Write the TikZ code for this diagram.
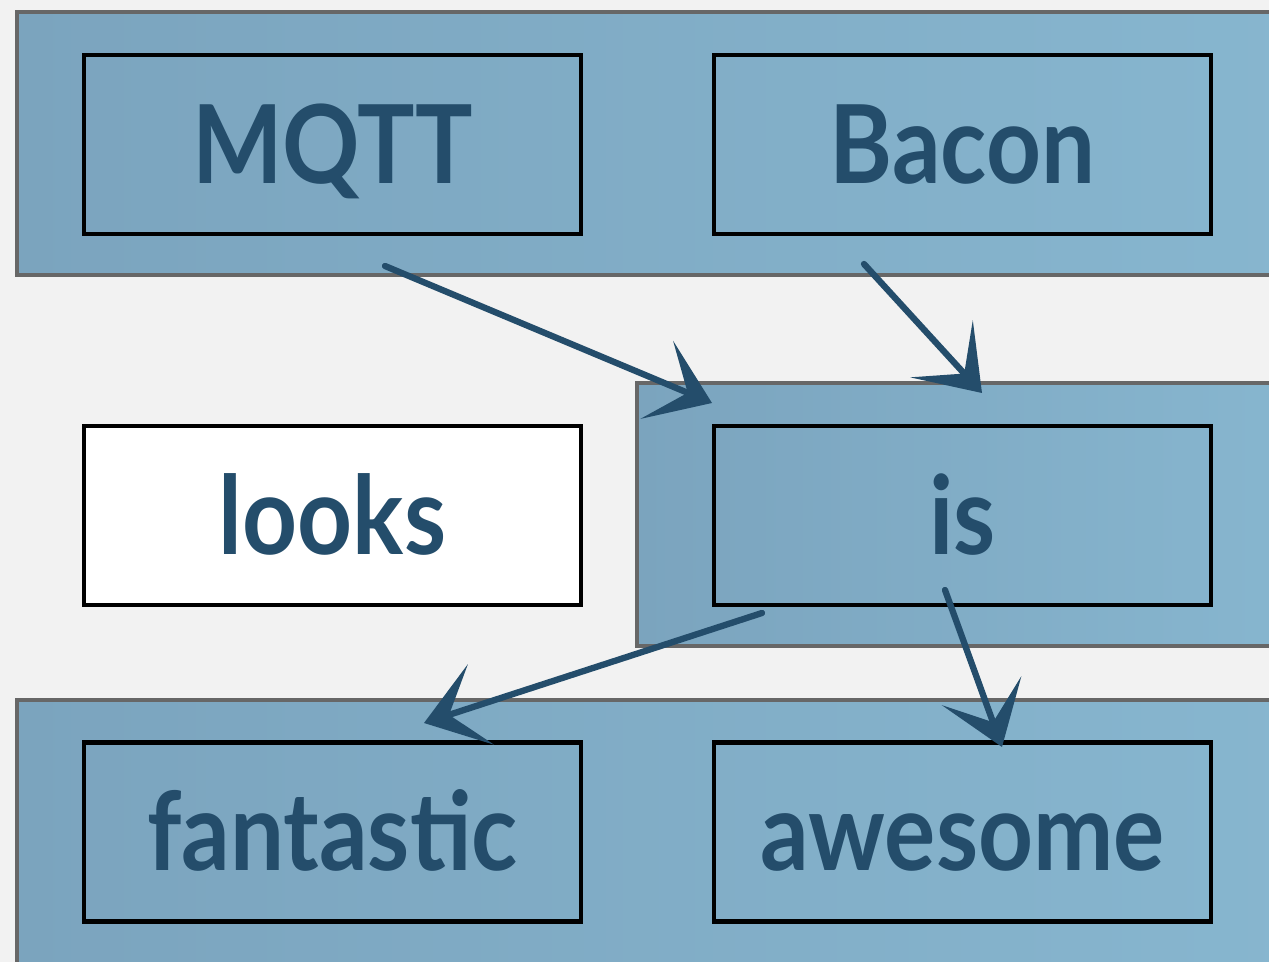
\documentclass[tikz,border=0pt]{standalone}
\usepackage{fontspec}
\setmainfont[FakeStretch=0.88]{Lato}
\usetikzlibrary{positioning,
calc,
arrows.meta}
\definecolor{paper}{HTML}{F2F2F2}
\definecolor{bandleft}{HTML}{7BA4BE}
\definecolor{bandright}{HTML}{87B6CF}
\definecolor{bandgrey}{HTML}{676767}
\definecolor{inkblue}{HTML}{244D6B}
\tikzstyle{Band} = [
draw=bandgrey,
line width=2.8pt,
left color=bandleft,
right color=bandright
]
\tikzstyle{Word} = [
draw=black,
line width=2.3pt,
minimum width=9.94cm,
minimum height=3.58cm,
inner sep=0pt,
text=inkblue,
text height=44pt,
text depth=0pt,
font=\fontsize{62}{70}\selectfont\bfseries
]
\tikzstyle{Arrow} = [
draw=inkblue,
line width=3.6pt,
line cap=round,
-{Stealth[length=34pt, width=48pt, inset=19pt]}
]

\begin{document}
\begin{tikzpicture}[x=0.02cm, y=-0.02cm]
   \clip (0,0) rectangle (1269,962);
   \fill [paper] (0,0) rectangle (1269,962);
   % bands
   \draw [Band] (17,12) rectangle (1300,275);
   \draw [Band] (637,383) rectangle (1300,646);
   \draw [Band] (17,700) rectangle (1300,1000);

   \node [Word] (mqtt) at (332.5,144.5) {MQTT};
   \node [Word] (bacon) at (962.5,144.5) {Bacon};
   \node [Word, fill=white] (looks) at (332.5,515.5) {looks};
   \node [Word] (is) at (962.5,515.5) {is};
   \node [Word] (fantastic) at (332.5,832) {fantastic};
   \node [Word] (awesome) at (962.5,832) {awesome};

   \coordinate (mqtt tail) at (385,266);
   \coordinate (bacon tail) at (864,264);
   \coordinate (is left) at (712,403);
   \coordinate (is right) at (982,393);
   \coordinate (is tail a) at (762,613);
   \coordinate (is tail b) at (945,590);
   \coordinate (fantastic head) at (424,723);
   \coordinate (awesome head) at (1002,747);

   \draw [Arrow] (mqtt tail) to (is left);
   \draw [Arrow] (bacon tail) to (is right);
   \draw [Arrow] (is tail a) to (fantastic head);
   \draw [Arrow] (is tail b) to (awesome head);
\end{tikzpicture}
\end{document}
